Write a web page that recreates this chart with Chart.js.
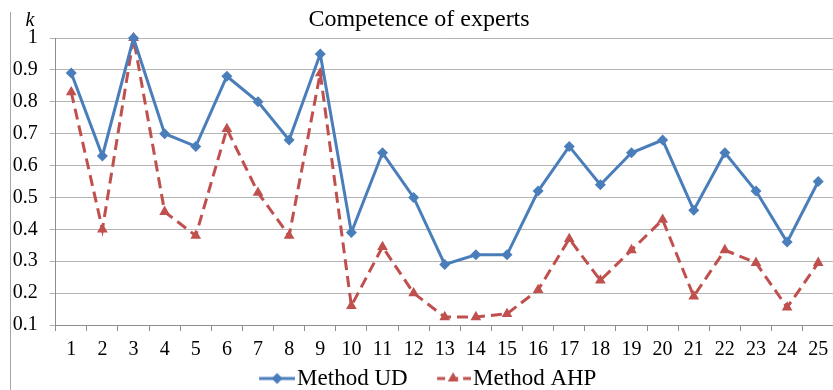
<!DOCTYPE html>
<html>
<head>
<meta charset="utf-8">
<script src="https://cdn.jsdelivr.net/npm/chart.js@4.4.1/dist/chart.umd.min.js"></script>
<style>
  html, body { margin: 0; padding: 0; overflow: hidden; background: #fff; }
  canvas { display: block; }
</style>
</head>
<body>
<canvas id="myCanvas" width="840" height="400"></canvas>
<script>
const experts = ["1", "2", "3", "4", "5", "6", "7", "8", "9", "10", "11", "12", "13",
  "14", "15", "16", "17", "18", "19", "20", "21", "22", "23", "24", "25"];
const udValues = [0.89, 0.63, 1.0, 0.7, 0.66, 0.88, 0.8, 0.68, 0.95, 0.39, 0.64, 0.5, 0.29,
  0.32, 0.32, 0.52, 0.66, 0.54, 0.64, 0.68, 0.46, 0.64, 0.52, 0.36, 0.55];
const ahpValues = [0.83, 0.4, 1.0, 0.455, 0.38, 0.715, 0.515, 0.38, 0.89, 0.16, 0.345, 0.2, 0.125,
  0.125, 0.135, 0.21, 0.37, 0.24, 0.335, 0.43, 0.19, 0.335, 0.295, 0.155, 0.295];
const seriesNames = ["Method UD", "Method AHP"];
const chartTitle = "Competence of experts";
const axisName = "k";

const FONT = '"Liberation Serif", "Times New Roman", serif';
const BLUE = "#4a7ebb";
const RED = "#c0504d";

// legend sample: line + marker drawn into a small canvas
const legendIcon = (color, dash, style, radius) => {
  const c = document.createElement("canvas");
  c.width = 63;
  c.height = 16;
  const g = c.getContext("2d");
  g.strokeStyle = color;
  g.lineWidth = 3;
  g.setLineDash(dash);
  g.lineDashOffset = -2;
  g.beginPath();
  g.moveTo(27, 8);
  g.lineTo(63, 8);
  g.stroke();
  g.setLineDash([]);
  g.fillStyle = color;
  Chart.helpers.drawPoint(g, { pointStyle: style, radius: radius, borderWidth: 0 }, 45, 8);
  return c;
};

const frame = {
  id: "frame",
  afterDraw(chart) {
    const ctx = chart.ctx;
    ctx.save();
    ctx.strokeStyle = "#a6a6a6";
    ctx.lineWidth = 1;
    ctx.beginPath();
    ctx.moveTo(10.5, 12);
    ctx.lineTo(10.5, chart.height);
    ctx.stroke();
    ctx.fillStyle = "#000";
    ctx.font = "italic 20px " + FONT;
    ctx.textAlign = "center";
    ctx.textBaseline = "alphabetic";
    ctx.fillText(axisName, 30, 26);
    ctx.restore();
  },
};

const line = document.getElementById("myCanvas");
new Chart(line, {
  type: "line",
  data: {
    labels: experts,
    datasets: [
      {
        label: seriesNames[0],
        data: udValues,
        borderColor: BLUE,
        backgroundColor: BLUE,
        borderWidth: 3,
        pointStyle: "rectRot",
        pointRadius: 5.5,
        pointBorderWidth: 0,
        tension: 0,
        fill: false,
        clip: false,
      },
      {
        label: seriesNames[1],
        data: ahpValues,
        borderColor: RED,
        backgroundColor: RED,
        borderWidth: 3,
        borderDash: [11, 6],
        pointStyle: "triangle",
        pointRadius: 6.2,
        pointBorderWidth: 0,
        tension: 0,
        fill: false,
        clip: false,
      },
    ],
  },
  options: {
    responsive: false,
    animation: false,
    layout: { padding: { left: 0, right: 2, top: 0, bottom: 0 } },
    plugins: {
      tooltip: { enabled: false },
      title: {
        display: true,
        text: chartTitle,
        color: "#000",
        font: { family: FONT, size: 24, weight: "normal" },
        padding: { top: 5.6, bottom: 3.6 },
      },
      legend: {
        position: "bottom",
        labels: {
          color: "#000",
          font: { family: FONT, size: 23 },
          usePointStyle: true,
          pointStyleWidth: 44,
          padding: 10,
          generateLabels: (chart) => {
            const items = Chart.defaults.plugins.legend.labels.generateLabels(chart);
            items[0].pointStyle = legendIcon(BLUE, [], "rectRot", 5.5);
            items[1].pointStyle = legendIcon(RED, [8, 5], "triangle", 6.2);
            return items;
          },
        },
      },
    },
    scales: {
      x: {
        offset: true,
        grid: {
          offset: true,
          drawOnChartArea: false,
          drawTicks: true,
          tickLength: 6,
          color: "#8e8e8e",
        },
        border: { color: "#8e8e8e" },
        ticks: {
          color: "#000",
          font: { family: FONT, size: 20 },
          padding: 7,
          maxRotation: 0,
          autoSkip: false,
        },
        afterFit: (scale) => {
          scale.height = 32;
        },
      },
      y: {
        min: 0.1,
        max: 1,
        grid: { color: "#b4b4b4", tickLength: 6 },
        border: { color: "#8e8e8e" },
        ticks: {
          stepSize: 0.1,
          color: "#000",
          font: { family: FONT, size: 20 },
          padding: 12,
          callback: (v) => String(Number(v.toFixed(1))),
        },
        afterFit: (scale) => {
          scale.width = 55.7;
        },
      },
    },
  },
  plugins: [frame],
});
</script>
</body>
</html>
